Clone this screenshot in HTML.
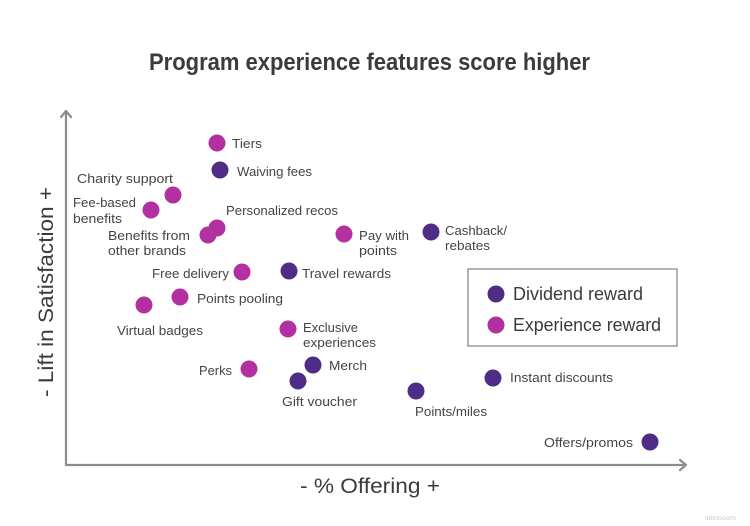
<!DOCTYPE html>
<html>
<head>
<meta charset="utf-8">
<style>
html,body{margin:0;padding:0;background:#fff;}
svg{display:block;}
text{font-family:"Liberation Sans",sans-serif;}
</style>
</head>
<body>
<svg width="750" height="526" viewBox="0 0 750 526" xmlns="http://www.w3.org/2000/svg">
<rect width="750" height="526" fill="#fff"/>
<!-- Title -->
<text x="149" y="70" font-size="24" font-weight="bold" fill="#3b3b3b" textLength="441" lengthAdjust="spacingAndGlyphs">Program experience features score higher</text>

<!-- Axes -->
<g stroke="#8c8c8c" stroke-width="2.2" fill="none" stroke-linecap="round" stroke-linejoin="round">
  <polyline points="66,111 66,465 686,465"/>
  <polyline points="61,117 66,111 71,117"/>
  <polyline points="680,460 686,465 680,470"/>
</g>

<!-- Axis labels -->
<text x="300" y="493" font-size="21" fill="#3b3b3b" textLength="140" lengthAdjust="spacingAndGlyphs">- % Offering +</text>
<text transform="translate(53,397) rotate(-90)" x="0" y="0" font-size="21" fill="#3b3b3b" textLength="210" lengthAdjust="spacingAndGlyphs">- Lift in Satisfaction +</text>

<!-- Legend -->
<rect x="468" y="269" width="209" height="77" fill="#fff" stroke="#9a9a9a" stroke-width="1.5"/>
<circle cx="496" cy="294" r="8.5" fill="#4f2c86"/>
<circle cx="496" cy="325" r="8.5" fill="#b2309f"/>
<text x="513" y="300" font-size="18" fill="#3b3b3b" textLength="130" lengthAdjust="spacingAndGlyphs">Dividend reward</text>
<text x="513" y="331" font-size="18" fill="#3b3b3b" textLength="148" lengthAdjust="spacingAndGlyphs">Experience reward</text>

<!-- Dots -->
<g>
  <circle cx="217" cy="143" r="8.5" fill="#b2309f"/>
  <circle cx="220" cy="170" r="8.5" fill="#4f2c86"/>
  <circle cx="173" cy="195" r="8.5" fill="#b2309f"/>
  <circle cx="151" cy="210" r="8.5" fill="#b2309f"/>
  <circle cx="217" cy="228" r="8.5" fill="#b2309f"/>
  <circle cx="208" cy="235" r="8.5" fill="#b2309f"/>
  <circle cx="344" cy="234" r="8.5" fill="#b2309f"/>
  <circle cx="431" cy="232" r="8.5" fill="#4f2c86"/>
  <circle cx="242" cy="272" r="8.5" fill="#b2309f"/>
  <circle cx="289" cy="271" r="8.5" fill="#4f2c86"/>
  <circle cx="180" cy="297" r="8.5" fill="#b2309f"/>
  <circle cx="144" cy="305" r="8.5" fill="#b2309f"/>
  <circle cx="288" cy="329" r="8.5" fill="#b2309f"/>
  <circle cx="249" cy="369" r="8.5" fill="#b2309f"/>
  <circle cx="313" cy="365" r="8.5" fill="#4f2c86"/>
  <circle cx="298" cy="381" r="8.5" fill="#4f2c86"/>
  <circle cx="416" cy="391" r="8.5" fill="#4f2c86"/>
  <circle cx="493" cy="378" r="8.5" fill="#4f2c86"/>
  <circle cx="650" cy="442" r="8.5" fill="#4f2c86"/>
</g>

<!-- Labels -->
<g font-size="13" fill="#444">
  <text x="232" y="148" textLength="30" lengthAdjust="spacingAndGlyphs">Tiers</text>
  <text x="237" y="176" textLength="75" lengthAdjust="spacingAndGlyphs">Waiving fees</text>
  <text x="77" y="183" textLength="96" lengthAdjust="spacingAndGlyphs">Charity support</text>
  <text x="73" y="207" textLength="63" lengthAdjust="spacingAndGlyphs">Fee-based</text>
  <text x="73" y="223" textLength="49" lengthAdjust="spacingAndGlyphs">benefits</text>
  <text x="226" y="215" textLength="112" lengthAdjust="spacingAndGlyphs">Personalized recos</text>
  <text x="108" y="240" textLength="82" lengthAdjust="spacingAndGlyphs">Benefits from</text>
  <text x="108" y="255" textLength="78" lengthAdjust="spacingAndGlyphs">other brands</text>
  <text x="359" y="240" textLength="50" lengthAdjust="spacingAndGlyphs">Pay with</text>
  <text x="359" y="255" textLength="38" lengthAdjust="spacingAndGlyphs">points</text>
  <text x="445" y="235" textLength="62" lengthAdjust="spacingAndGlyphs">Cashback/</text>
  <text x="445" y="250" textLength="45" lengthAdjust="spacingAndGlyphs">rebates</text>
  <text x="152" y="278" textLength="77" lengthAdjust="spacingAndGlyphs">Free delivery</text>
  <text x="302" y="278" textLength="89" lengthAdjust="spacingAndGlyphs">Travel rewards</text>
  <text x="197" y="303" textLength="86" lengthAdjust="spacingAndGlyphs">Points pooling</text>
  <text x="117" y="335" textLength="86" lengthAdjust="spacingAndGlyphs">Virtual badges</text>
  <text x="303" y="332" textLength="55" lengthAdjust="spacingAndGlyphs">Exclusive</text>
  <text x="303" y="347" textLength="73" lengthAdjust="spacingAndGlyphs">experiences</text>
  <text x="199" y="375" textLength="33" lengthAdjust="spacingAndGlyphs">Perks</text>
  <text x="329" y="370" textLength="38" lengthAdjust="spacingAndGlyphs">Merch</text>
  <text x="282" y="406" textLength="75" lengthAdjust="spacingAndGlyphs">Gift voucher</text>
  <text x="510" y="382" textLength="103" lengthAdjust="spacingAndGlyphs">Instant discounts</text>
  <text x="415" y="416" textLength="72" lengthAdjust="spacingAndGlyphs">Points/miles</text>
  <text x="544" y="447" textLength="89" lengthAdjust="spacingAndGlyphs">Offers/promos</text>
</g>

<!-- Watermark -->
<text x="705" y="520" font-size="6" fill="#c8c8c8" textLength="31" lengthAdjust="spacingAndGlyphs">sitinsoom</text>
</svg>
</body>
</html>
